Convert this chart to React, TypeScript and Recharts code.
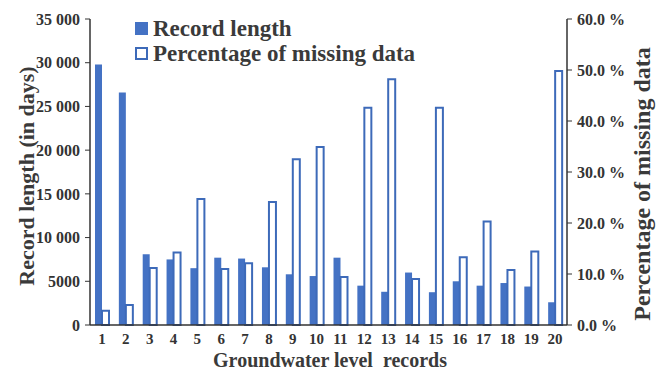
import {
  ComposedChart,
  Bar,
  XAxis,
  YAxis,
  Legend,
} from "recharts";

const records = [
  "1", "2", "3", "4", "5", "6", "7", "8", "9", "10",
  "11", "12", "13", "14", "15", "16", "17", "18", "19", "20",
];

// record length, days
const recordLength = [
  29800, 26600, 8100, 7500, 6500, 7700, 7600, 6600, 5800, 5600,
  7700, 4500, 3800, 6000, 3750, 5000, 4500, 4800, 4400, 2600,
];

// share of missing data, %
const missingPct = [
  2.8, 3.9, 11.2, 14.2, 24.7, 11.0, 12.1, 24.1, 32.5, 34.9,
  9.4, 42.6, 48.2, 9.0, 42.6, 13.3, 20.3, 10.8, 14.4, 49.8,
];

const lengthTicks = [0, 5000, 10000, 15000, 20000, 25000, 30000, 35000];
const pctTicks = [0, 10, 20, 30, 40, 50, 60];

const data = records.map((name, i) => ({
  name,
  length: recordLength[i],
  missing: missingPct[i],
}));

const BLUE = "#4472c4";
const EDGE = "#3d6ab9";
const INK = "#333";
const FONT = "'Liberation Serif', 'Times New Roman', serif";

const yTickStyle = { fontFamily: FONT, fontWeight: 700, fontSize: 16, fill: INK };
const xTickStyle = { ...yTickStyle, fontSize: 15 };

const fmtLength = (v: number) =>
  v >= 10000 ? `${Math.floor(v / 1000)} ${String(v % 1000).padStart(3, "0")}` : String(v);

const fmtPct = (v: number) => `${v.toFixed(1)} %`;

function LegendBox() {
  const row = { display: "flex", alignItems: "center", height: 25 };
  const text = { fontFamily: FONT, fontWeight: 700, fontSize: 23, color: "#3a3a3a", marginLeft: 5 };
  return (
    <div>
      <div style={row}>
        <span style={{ width: 13, height: 13, background: BLUE, display: "inline-block" }} />
        <span style={text}>Record length</span>
      </div>
      <div style={row}>
        <span
          style={{
            width: 9,
            height: 9,
            border: `2px solid ${EDGE}`,
            background: "#fff",
            display: "inline-block",
          }}
        />
        <span style={text}>Percentage of missing data</span>
      </div>
    </div>
  );
}

export default function App() {
  const titleStyle = { fontFamily: FONT, fontWeight: 700, fill: "#3a3a3a" };
  return (
    <div style={{ position: "absolute", left: 0, top: 0, background: "#fff" }}>
      <ComposedChart
        width={662}
        height={372}
        data={data}
        margin={{ top: 19, right: 0, bottom: 0, left: 0 }}
        barGap={0}
        barSize={7}
      >
        <XAxis
          dataKey="name"
          height={47}
          tickLine={false}
          axisLine={{ stroke: INK, strokeWidth: 1.5 }}
          tick={xTickStyle}
          tickMargin={2}
          interval={0}
        />
        <YAxis
          yAxisId="len"
          width={90}
          domain={[0, 35000]}
          ticks={lengthTicks}
          tickFormatter={fmtLength}
          tick={yTickStyle}
          tickSize={5}
          tickMargin={5}
          tickLine={{ stroke: INK }}
          axisLine={{ stroke: INK, strokeWidth: 1.5 }}
          allowDataOverflow
        />
        <YAxis
          yAxisId="pct"
          orientation="right"
          width={95}
          domain={[0, 60]}
          ticks={pctTicks}
          tickFormatter={fmtPct}
          tick={yTickStyle}
          tickSize={5}
          tickMargin={5}
          tickLine={{ stroke: INK }}
          axisLine={{ stroke: INK, strokeWidth: 1.5 }}
        />
        {/* middle/center keeps the legend from reserving plot space */}
        <Legend
          layout="horizontal"
          verticalAlign="middle"
          align="center"
          content={<LegendBox />}
          wrapperStyle={{ position: "absolute", left: 135, top: 16, width: "auto" }}
        />
        <Bar yAxisId="len" dataKey="length" fill={BLUE} isAnimationActive={false} />
        <Bar
          yAxisId="pct"
          dataKey="missing"
          fill="#fff"
          stroke={EDGE}
          strokeWidth={2}
          isAnimationActive={false}
        />
        <text
          transform="translate(26 176) rotate(-90)"
          textAnchor="middle"
          dominantBaseline="central"
          style={{ ...titleStyle, fontSize: 22 }}
        >
          Record length (in days)
        </text>
        <text
          transform="translate(642 184) rotate(-90)"
          textAnchor="middle"
          dominantBaseline="central"
          style={{ ...titleStyle, fontSize: 24 }}
        >
          Percentage of missing data
        </text>
        <text
          x={330}
          y={360}
          textAnchor="middle"
          dominantBaseline="central"
          style={{ ...titleStyle, fontSize: 20 }}
        >
          Groundwater level {"\u00a0"}records
        </text>
      </ComposedChart>
    </div>
  );
}
